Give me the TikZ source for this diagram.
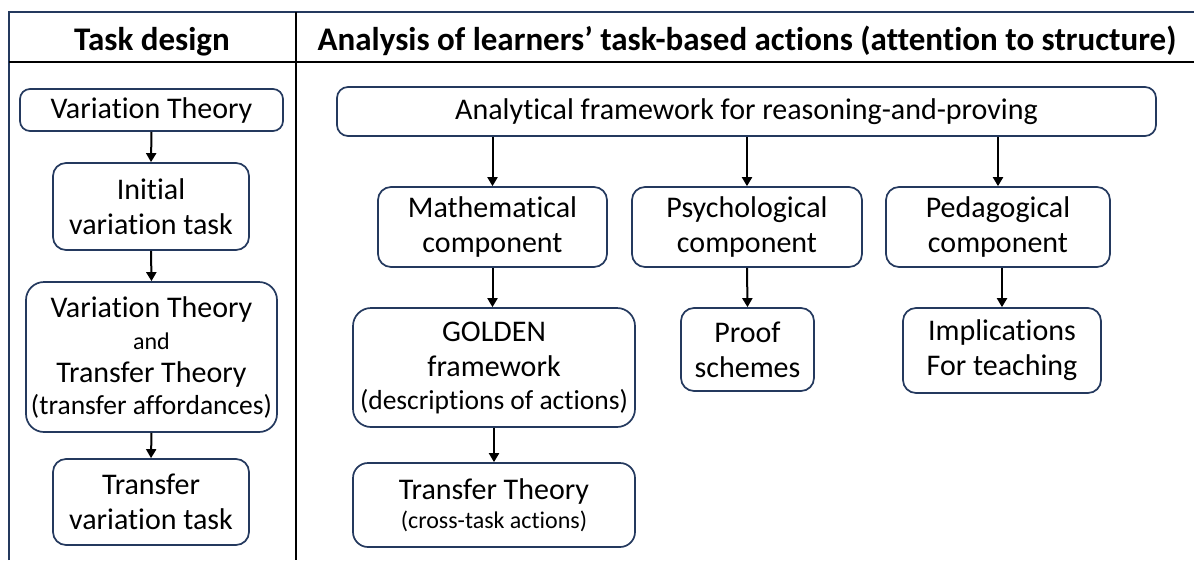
\documentclass[tikz,border=0pt]{standalone}
\usepackage{fontspec}
\setmainfont{Carlito}[Ligatures=NoCommon]
\usetikzlibrary{arrows.meta}
\definecolor{navy}{HTML}{24395E}
\begin{document}
\begin{tikzpicture}[x=1pt,y=-1pt,
  box/.style={draw=navy, line width=1.7pt, rounded corners=13pt, align=center,
    inner sep=0pt, fill=white, font=\fontsize{30pt}{35pt}\selectfont},
  head/.style={font=\bfseries\fontsize{33pt}{36pt}\selectfont, inner sep=0pt, anchor=base},
  link/.style={line width=2pt, -{Triangle[length=9pt,width=10pt]}},
  rule/.style={line width=2.2pt}]
\useasboundingbox (0,0) rectangle (1194,560);

% table frame
\draw[rule, navy] (9,560) -- (9,12) -- (1194,12);
\draw[rule, black] (9,62) -- (1194,62);
\draw[rule, black] (296,12) -- (296,560);

% headers
\node[head] (h1) at (152,50) {Task design};
\node[head] (h2) at (747,50) {Analysis of learners’ task-based actions (attention to structure)};

% task design column
\node[box, minimum width=263pt, minimum height=42pt, rounded corners=10pt] (vt) at (151.5,110) {Variation Theory};
\node[box, minimum width=196pt, minimum height=87pt] (ivt) at (151,206.5) {Initial\\variation task};
\node[box, minimum width=251pt, minimum height=150pt, rounded corners=18pt] (vtt) at (151.5,357)
  {Variation Theory\\[-3pt]{\fontsize{24pt}{26pt}\selectfont and}\\[-2pt]Transfer Theory\\[-3pt]{\fontsize{27.5pt}{33pt}\selectfont(transfer affordances)}};
\node[box, minimum width=196pt, minimum height=86pt] (tvt) at (151,502) {Transfer\\variation task};

\draw[link] (vt.south) -- (ivt.north);
\draw[link] (ivt.south) -- (vtt.north);
\draw[link] (vtt.south) -- (tvt.north);

% analysis column
\node[box, minimum width=819pt, minimum height=49pt, rounded corners=11pt] (af) at (746.5,111.5) {Analytical framework for reasoning-and-proving};
\node[box, minimum width=229pt, minimum height=80pt] (mc) at (492.5,227) {Mathematical\\component};
\node[box, minimum width=230pt, minimum height=80pt] (pc) at (747,227) {Psychological\\component};
\node[box, minimum width=224pt, minimum height=80pt] (pgc) at (998,227) {Pedagogical\\component};
\node[box, minimum width=133pt, minimum height=83pt] (ps) at (747.5,349.5) {Proof\\schemes};
\node[box, minimum width=198pt, minimum height=85pt] (it) at (1002,350.5) {Implications\\For teaching};
\node[box, minimum width=282pt, minimum height=119pt, rounded corners=18pt] (gf) at (494,367.5)
  {GOLDEN\\framework\\[-2pt]{\fontsize{27.5pt}{33pt}\selectfont(descriptions of actions)}};
\node[box, minimum width=282pt, minimum height=84pt, rounded corners=15pt] (tt) at (494,505)
  {Transfer Theory\\[-6pt]{\fontsize{24pt}{26pt}\selectfont(cross-task actions)}};

\draw[link] (af.south -| mc.north) -- (mc.north);
\draw[link] (af.south -| pc.north) -- (pc.north);
\draw[link] (af.south -| pgc.north) -- (pgc.north);
\draw[link] (mc.south) -- (mc.south |- gf.north);
\draw[link] (pc.south) -- (ps.north);
\draw[link] (pgc.south -| it.north) -- (it.north);
\draw[link] (gf.south) -- (tt.north);
\end{tikzpicture}
\end{document}
